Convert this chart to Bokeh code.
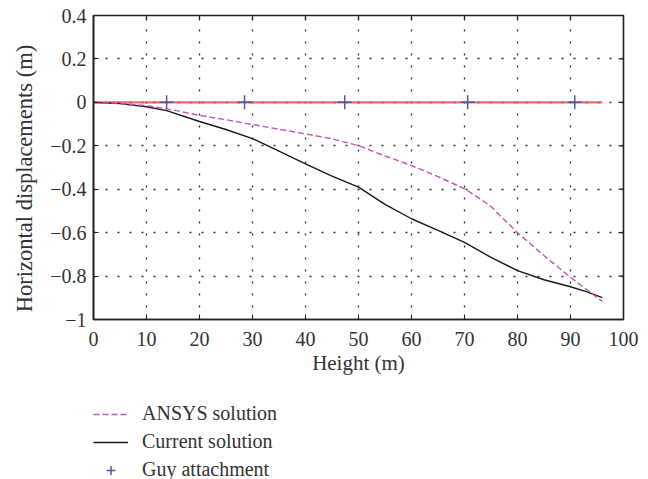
import math
from bokeh.plotting import figure
from bokeh.models import Range1d, FixedTicker, Legend, LegendItem, Label
from bokeh.layouts import row, column
from bokeh.embed import file_html
from bokeh.resources import INLINE

# ---- data ----
current_x = [0, 5, 10, 13.8, 20, 25, 30, 35, 40, 45, 50, 55, 60, 65, 70, 75, 80, 85, 90, 93, 96]
current_y = [0, -0.006, -0.02, -0.038, -0.088, -0.125, -0.167, -0.225, -0.283, -0.34, -0.39, -0.47,
             -0.536, -0.59, -0.645, -0.714, -0.775, -0.817, -0.849, -0.872, -0.899]
ansys_x = [0, 5, 10, 15, 20, 25, 30, 35, 40, 45, 50, 55, 60, 65, 70, 73, 75, 80, 85, 90, 96]
ansys_y = [0, -0.005, -0.015, -0.035, -0.06, -0.08, -0.102, -0.124, -0.145, -0.168, -0.199, -0.247,
           -0.291, -0.342, -0.398, -0.445, -0.48, -0.6, -0.706, -0.806, -0.917]
mast_x = [0, 96]
mast_y = [0, 0]
guy_x = [13.8, 28.5, 47.4, 70.6, 90.8]
guy_y = [0, 0, 0, 0, 0]
x_ticks = [0, 10, 20, 30, 40, 50, 60, 70, 80, 90, 100]
y_ticks = [-1, -0.8, -0.6, -0.4, -0.2, 0, 0.2, 0.4]
y_tick_labels = ["\u22121", "\u22120.8", "\u22120.6", "\u22120.4", "\u22120.2", "0", "0.2", "0.4"]
series_labels = ["ANSYS solution", "Current solution", "Guy attachment"]
x_title = "Height (m)"
y_title = "Horizontal displacements (m)"
X_MIN, X_MAX = 0, 100
Y_MIN, Y_MAX = -1, 0.4

FONT = "Liberation Serif"
FS = "20px"
FS_LABEL = "21px"
FS_YLABEL = "22.5px"
INK = "#222222"
TXT = "#333333"
C_MAST, C_CUR, C_ANS, C_GUY = "#e8505a", "#1a1a1a", "#c455b8", "#4a5aa8"

LEFT_W = 45          # width of the strip that carries the y title
TOTAL_H = 479

# ---------------- main plot ----------------
p = figure(frame_width=530, frame_height=304, output_backend="svg", toolbar_location=None,
           x_range=Range1d(X_MIN, X_MAX), y_range=Range1d(Y_MIN, Y_MAX),
           min_border_left=93 - LEFT_W, min_border_top=15, min_border_right=17, min_border_bottom=71,
           x_axis_label=x_title)
p.background_fill_color = "white"
p.border_fill_color = "white"
p.outline_line_color = INK
p.outline_line_width = 1.6

for ax in (p.xaxis[0], p.yaxis[0]):
    ax.axis_line_color = INK
    ax.axis_line_width = 1.6
    ax.major_tick_in = 5
    ax.major_tick_out = 0
    ax.minor_tick_line_color = None
    ax.major_tick_line_color = INK
    ax.major_label_text_font = FONT
    ax.major_label_text_font_size = FS
    ax.major_label_text_color = TXT
    ax.axis_label_text_font = FONT
    ax.axis_label_text_font_size = FS_LABEL
    ax.axis_label_text_font_style = "normal"
    ax.axis_label_text_color = TXT

p.xaxis.ticker = FixedTicker(ticks=x_ticks)
p.yaxis.ticker = FixedTicker(ticks=y_ticks)
p.yaxis.major_label_overrides = {t: l for t, l in zip(y_ticks, y_tick_labels)}
p.xaxis.major_label_standoff = 12
p.yaxis.major_label_standoff = 7
p.xaxis.axis_label_standoff = 2

# inner tick marks on right and top borders (clipped to frame)
p.scatter([X_MAX] * len(y_ticks), y_ticks, marker="dash", size=10, line_color=INK, line_width=1.2)
p.scatter(x_ticks, [Y_MAX] * len(x_ticks), marker="dash", size=10, angle=math.pi / 2,
          line_color=INK, line_width=1.2)

p.xgrid.ticker = FixedTicker(ticks=x_ticks)
p.ygrid.ticker = FixedTicker(ticks=y_ticks)
for g in (p.xgrid[0], p.ygrid[0]):
    g.grid_line_color = "#333333"
    g.grid_line_dash = "2 10"
    g.grid_line_width = 1.3

p.line(mast_x, mast_y, line_color=C_MAST, line_width=2.2, line_alpha=0.85)
p.line(current_x, current_y, line_color=C_CUR, line_width=1.4)
p.line(ansys_x, ansys_y, line_color=C_ANS, line_width=1.4, line_dash="6 3")
p.scatter(guy_x, guy_y, marker="cross", size=14, line_color=C_GUY, line_width=1.5)

MAIN_H = 15 + 304 + 71

# ---------------- legend strip ----------------
# the strip's ranges are far from the data, so its renderers only serve as legend keys
leg_h = TOTAL_H - MAIN_H
pl = figure(width=93 - LEFT_W + 547, height=leg_h, output_backend="svg", toolbar_location=None,
            x_axis_type=None, y_axis_type=None,
            x_range=Range1d(1000, 1001), y_range=Range1d(1000, 1001),
            min_border_left=93 - LEFT_W, min_border_right=0, min_border_top=12, min_border_bottom=0)
pl.outline_line_color = None
pl.grid.visible = False
l_ans = pl.line(ansys_x, ansys_y, line_color=C_ANS, line_width=1.4, line_dash="6 3")
l_cur = pl.line(current_x, current_y, line_color=C_CUR, line_width=1.4)
l_guy = pl.scatter(guy_x, guy_y, marker="cross", size=14, line_color=C_GUY, line_width=1.5)
legend = Legend(items=[LegendItem(label=series_labels[0], renderers=[l_ans]),
                       LegendItem(label=series_labels[1], renderers=[l_cur]),
                       LegendItem(label=series_labels[2], renderers=[l_guy])],
                location="top_left", orientation="vertical",
                label_text_font=FONT, label_text_font_size=FS, label_text_color=TXT,
                glyph_width=35, glyph_height=22, label_standoff=14, spacing=5,
                padding=0, margin=0, border_line_color=None, background_fill_alpha=0)
pl.add_layout(legend, "center")

# ---------------- y-title strip ----------------
py = figure(width=LEFT_W, height=TOTAL_H, output_backend="svg", toolbar_location=None,
            x_axis_type=None, y_axis_type=None, x_range=Range1d(0, 1), y_range=Range1d(0, 1),
            min_border=0)
py.outline_line_color = None
py.grid.visible = False
py.add_layout(Label(x=24, y=TOTAL_H - 178, x_units="screen", y_units="screen", text=y_title,
                    angle=math.pi / 2, text_align="center", text_baseline="middle",
                    text_font=FONT, text_font_size=FS_YLABEL, text_color=TXT))

layout = row(py, column(p, pl, spacing=0), spacing=0)
open("out.html", "w").write(file_html(layout, INLINE))
